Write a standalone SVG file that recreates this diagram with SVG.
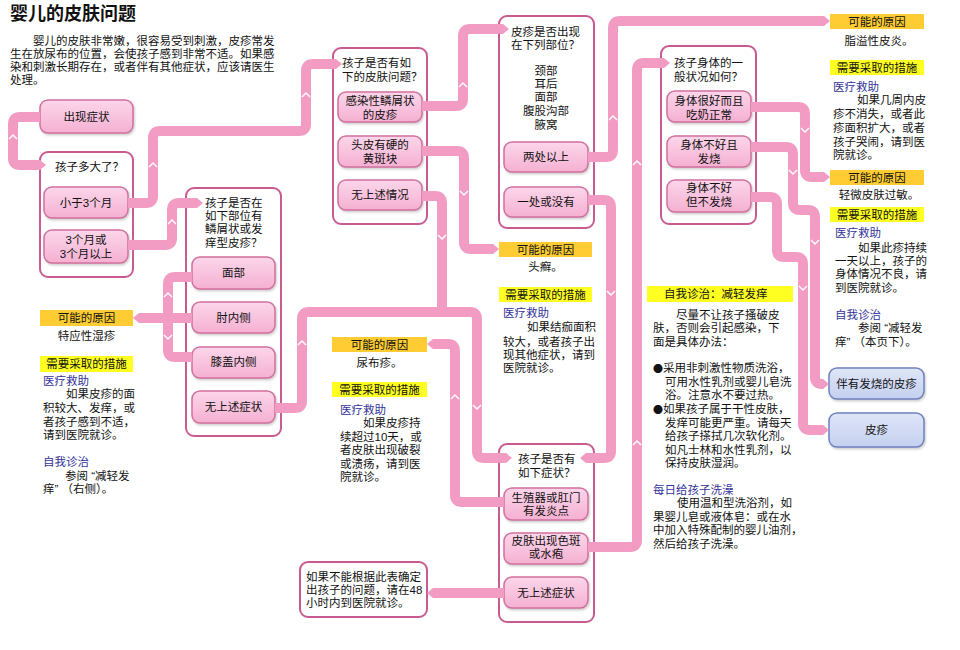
<svg xmlns="http://www.w3.org/2000/svg" width="960" height="650" viewBox="0 0 960 650">
<defs>
<linearGradient id="pk" x1="0" y1="0" x2="0" y2="1"><stop offset="0" stop-color="#fcd6ea"/><stop offset="1" stop-color="#f5b0d2"/></linearGradient>
<linearGradient id="bl" x1="0" y1="0" x2="0" y2="1"><stop offset="0" stop-color="#dfe6f8"/><stop offset="1" stop-color="#c4d0f0"/></linearGradient>
<filter id="sh" x="-10%" y="-10%" width="130%" height="150%"><feDropShadow dx="1" dy="1.5" stdDeviation="1" flood-color="#888" flood-opacity="0.45"/></filter>
<marker id="tip" markerUnits="userSpaceOnUse" viewBox="0 -6 7 12" refX="0" refY="0" markerWidth="7" markerHeight="12" orient="auto"><path d="M0,-5 L6,0 L0,5 Z" fill="#f29cc4"/></marker>
</defs>
<style>
.t{font-family:"Liberation Sans","Noto Sans CJK SC",sans-serif;font-size:11.5px;fill:#111;dominant-baseline:central}
.b{font-family:"Noto Sans CJK SC",sans-serif;font-size:10px}
.c{text-anchor:middle}
.h{fill:#333399}
.ttl{font-size:18px;font-weight:bold}
.box{fill:#fff;stroke:#c75b92;stroke-width:2}
.nd{fill:url(#pk);stroke:#d2709f;stroke-width:1.5;filter:url(#sh)}
.bn{fill:url(#bl);stroke:#7082c0;stroke-width:1.5;filter:url(#sh)}
.l1{fill:#ffcc33}
.l2{fill:#ffff22}
.cn{fill:none;stroke:#f29cc4;stroke-width:10;stroke-linejoin:round}
.cv{fill:none;stroke:#fff;stroke-width:1.4}
</style>
<rect width="960" height="650" fill="#fff"/>

<g id="intro">
<text class="t ttl" x="10" y="14">婴儿的皮肤问题</text>
<text class="t" x="33" y="41">婴儿的皮肤非常嫩，很容易受到刺激，皮疹常发</text>
<text class="t" x="10" y="54">生在放尿布的位置，会使孩子感到非常不适。如果感</text>
<text class="t" x="10" y="67">染和刺激长期存在，或者伴有其他症状，应该请医生</text>
<text class="t" x="10" y="80">处理。</text>
</g>

<g id="n-start">
<rect class="nd" x="40" y="100" width="93" height="33" rx="8"/>
<text class="t c" x="86.5" y="116.5">出现症状</text>
</g>

<g id="q-age">
<rect class="box" x="40" y="152" width="93" height="125" rx="8"/>
<text class="t" x="55" y="167">孩子多大了？</text>
<rect class="nd" x="44" y="187" width="84" height="31" rx="8"/>
<text class="t c" x="86" y="202.5">小于3个月</text>
<rect class="nd" x="44" y="230" width="84" height="33" rx="8"/>
<text class="t c" x="86" y="240">3个月或</text>
<text class="t c" x="86" y="254">3个月以上</text>
</g>

<g id="q-skin">
<rect class="box" x="333" y="48" width="94" height="176" rx="8"/>
<text class="t" x="342" y="63">孩子是否有如</text>
<text class="t" x="342" y="77">下的皮肤问题？</text>
<rect class="nd" x="338" y="92" width="84" height="30" rx="8"/>
<text class="t c" x="380" y="101">感染性鳞屑状</text>
<text class="t c" x="380" y="115">的皮疹</text>
<rect class="nd" x="338" y="136" width="84" height="31" rx="8"/>
<text class="t c" x="380" y="145">头皮有硬的</text>
<text class="t c" x="380" y="159">黄斑块</text>
<rect class="nd" x="338" y="180" width="84" height="30" rx="8"/>
<text class="t c" x="380" y="195">无上述情况</text>
</g>

<g id="q-site">
<rect class="box" x="499" y="16" width="95" height="212" rx="8"/>
<text class="t" x="511" y="32">皮疹是否出现</text>
<text class="t" x="511" y="45">在下列部位？</text>
<text class="t c" x="546" y="71">颈部</text>
<text class="t c" x="546" y="84">耳后</text>
<text class="t c" x="546" y="97">面部</text>
<text class="t c" x="546" y="111">腹股沟部</text>
<text class="t c" x="546" y="125">腋窝</text>
<rect class="nd" x="504" y="142" width="84" height="30" rx="8"/>
<text class="t c" x="546" y="157">两处以上</text>
<rect class="nd" x="504" y="187" width="84" height="30" rx="8"/>
<text class="t c" x="546" y="202">一处或没有</text>
</g>

<g id="q-itch">
<rect class="box" x="186" y="188" width="95" height="248" rx="8"/>
<text class="t" x="205" y="203">孩子是否在</text>
<text class="t" x="205" y="216">如下部位有</text>
<text class="t" x="205" y="229">鳞屑状或发</text>
<text class="t" x="205" y="243">痒型皮疹？</text>
<rect class="nd" x="192" y="257" width="83" height="32" rx="8"/>
<text class="t c" x="233.5" y="273">面部</text>
<rect class="nd" x="192" y="302" width="83" height="31" rx="8"/>
<text class="t c" x="233.5" y="318">肘内侧</text>
<rect class="nd" x="192" y="347" width="83" height="31" rx="8"/>
<text class="t c" x="233.5" y="362">膝盖内侧</text>
<rect class="nd" x="192" y="391" width="83" height="32" rx="8"/>
<text class="t c" x="233.5" y="407">无上述症状</text>
</g>

<g id="q-symptom">
<rect class="box" x="499" y="444" width="95" height="178" rx="8"/>
<text class="t" x="518" y="459">孩子是否有</text>
<text class="t" x="518" y="473">如下症状？</text>
<rect class="nd" x="504" y="488" width="84" height="32" rx="8"/>
<text class="t c" x="546" y="498">生殖器或肛门</text>
<text class="t c" x="546" y="511">有发炎点</text>
<rect class="nd" x="504" y="533" width="84" height="31" rx="8"/>
<text class="t c" x="546" y="541">皮肤出现色斑</text>
<text class="t c" x="546" y="554">或水疱</text>
<rect class="nd" x="504" y="577" width="84" height="31" rx="8"/>
<text class="t c" x="546" y="593">无上述症状</text>
</g>

<g id="q-general">
<rect class="box" x="661" y="46" width="95" height="178" rx="8"/>
<text class="t" x="674" y="63">孩子身体的一</text>
<text class="t" x="674" y="77">般状况如何？</text>
<rect class="nd" x="667" y="91" width="84" height="31" rx="8"/>
<text class="t c" x="709" y="101">身体很好而且</text>
<text class="t c" x="709" y="115">吃奶正常</text>
<rect class="nd" x="667" y="136" width="84" height="31" rx="8"/>
<text class="t c" x="709" y="145">身体不好且</text>
<text class="t c" x="709" y="159">发烧</text>
<rect class="nd" x="667" y="180" width="84" height="32" rx="8"/>
<text class="t c" x="709" y="188">身体不好</text>
<text class="t c" x="709" y="202">但不发烧</text>
</g>

<g id="end-unknown">
<rect class="box" x="300" y="562" width="127" height="55" rx="8"/>
<text class="t" x="306" y="577">如果不能根据此表确定</text>
<text class="t" x="306" y="590">出孩子的问题，请在48</text>
<text class="t" x="306" y="603">小时内到医院就诊。</text>
</g>

<g id="r-eczema">
<rect class="l1" x="40" y="310" width="93" height="16"/>
<text class="t c" x="86.5" y="318">可能的原因</text>
<text class="t c" x="86.5" y="336">特应性湿疹</text>
<rect class="l2" x="40" y="356" width="93" height="16"/>
<text class="t c" x="86.5" y="364">需要采取的措施</text>
<text class="t h" x="43" y="381">医疗救助</text>
<text class="t" x="66" y="394">如果皮疹的面</text>
<text class="t" x="43" y="408">积较大、发痒，或</text>
<text class="t" x="43" y="422">者孩子感到不适，</text>
<text class="t" x="43" y="435">请到医院就诊。</text>
<text class="t h" x="43" y="462">自我诊治</text>
<text class="t" x="65" y="476">参阅 “减轻发</text>
<text class="t" x="43" y="489">痒” （右侧）。</text>
</g>

<g id="r-diaper">
<rect class="l1" x="332" y="337" width="95" height="15"/>
<text class="t c" x="379.5" y="344.5">可能的原因</text>
<text class="t c" x="379.5" y="363">尿布疹。</text>
<rect class="l2" x="332" y="382" width="95" height="15"/>
<text class="t c" x="379.5" y="389.5">需要采取的措施</text>
<text class="t h" x="340" y="410">医疗救助</text>
<text class="t" x="363" y="423">如果皮疹持</text>
<text class="t" x="340" y="437">续超过10天，或</text>
<text class="t" x="340" y="450">者皮肤出现破裂</text>
<text class="t" x="340" y="464">或溃疡，请到医</text>
<text class="t" x="340" y="477">院就诊。</text>
</g>

<g id="r-tinea">
<rect class="l1" x="499" y="242" width="93" height="15"/>
<text class="t c" x="545.5" y="249.5">可能的原因</text>
<text class="t c" x="545.5" y="267">头癣。</text>
<rect class="l2" x="499" y="287" width="93" height="15"/>
<text class="t c" x="545.5" y="294.5">需要采取的措施</text>
<text class="t h" x="503" y="313">医疗救助</text>
<text class="t" x="527" y="327">如果结痂面积</text>
<text class="t" x="503" y="342">较大，或者孩子出</text>
<text class="t" x="503" y="355">现其他症状，请到</text>
<text class="t" x="503" y="368">医院就诊。</text>
</g>

<g id="r-seborrheic">
<rect class="l1" x="830" y="14" width="94" height="15"/>
<text class="t c" x="877" y="21.5">可能的原因</text>
<text class="t c" x="879" y="41">脂溢性皮炎。</text>
<rect class="l2" x="830" y="60" width="94" height="15"/>
<text class="t c" x="877" y="67.5">需要采取的措施</text>
<text class="t h" x="833" y="87">医疗救助</text>
<text class="t" x="857" y="100">如果几周内皮</text>
<text class="t" x="833" y="114">疹不消失，或者此</text>
<text class="t" x="833" y="128">疹面积扩大，或者</text>
<text class="t" x="833" y="142">孩子哭闹，请到医</text>
<text class="t" x="833" y="155">院就诊。</text>
</g>

<g id="r-allergy">
<rect class="l1" x="830" y="170" width="94" height="15"/>
<text class="t c" x="877" y="177.5">可能的原因</text>
<text class="t c" x="879" y="195">轻微皮肤过敏。</text>
<rect class="l2" x="830" y="207" width="94" height="15"/>
<text class="t c" x="877" y="214.5">需要采取的措施</text>
<text class="t h" x="835" y="233">医疗救助</text>
<text class="t" x="858" y="248">如果此疹持续</text>
<text class="t" x="835" y="261">一天以上，孩子的</text>
<text class="t" x="835" y="274">身体情况不良，请</text>
<text class="t" x="835" y="288">到医院就诊。</text>
<text class="t h" x="835" y="315">自我诊治</text>
<text class="t" x="858" y="328">参阅 “减轻发</text>
<text class="t" x="835" y="342">痒” （本页下）。</text>
</g>

<g id="n-fever-rash">
<rect class="bn" x="829" y="368" width="95" height="31" rx="8"/>
<text class="t c" x="876.5" y="384">伴有发烧的皮疹</text>
</g>

<g id="n-rash">
<rect class="bn" x="829" y="413" width="95" height="34" rx="8"/>
<text class="t c" x="876.5" y="430">皮疹</text>
</g>

<g id="r-itch-relief">
<rect class="l2" x="647" y="286" width="146" height="16"/>
<text class="t" x="664" y="294">自我诊治：减轻发痒</text>
<text class="t" x="676" y="315">尽量不让孩子搔破皮</text>
<text class="t" x="653" y="328">肤，否则会引起感染，下</text>
<text class="t" x="653" y="342">面是具体办法：</text>
<text class="t" x="653" y="368"><tspan class="b">●</tspan>采用非刺激性物质洗浴，</text>
<text class="t" x="665" y="382">可用水性乳剂或婴儿皂洗</text>
<text class="t" x="665" y="395">浴。注意水不要过热。</text>
<text class="t" x="653" y="409"><tspan class="b">●</tspan>如果孩子属于干性皮肤，</text>
<text class="t" x="665" y="423">发痒可能更严重。请每天</text>
<text class="t" x="665" y="436">给孩子搽拭几次软化剂。</text>
<text class="t" x="665" y="450">如凡士林和水性乳剂，以</text>
<text class="t" x="665" y="463">保持皮肤湿润。</text>
<text class="t h" x="653" y="490">每日给孩子洗澡</text>
<text class="t" x="677" y="503">使用温和型洗浴剂，如</text>
<text class="t" x="653" y="517">果婴儿皂或液体皂：或在水</text>
<text class="t" x="653" y="530">中加入特殊配制的婴儿油剂，</text>
<text class="t" x="653" y="544">然后给孩子洗澡。</text>
</g>

<g id="connectors">
<path class="cn" d="M40,117 H20 Q13,117 13,124 V158 Q13,165 20,165 H40" marker-end="url(#tip)"/>
<path class="cn" d="M128,203 H146 Q153,203 153,196 V138 Q153,131 160,131 H299 Q306,131 306,124 V71 Q306,64 313,64 H336" marker-end="url(#tip)"/>
<path class="cn" d="M128,245 H165 Q172,245 172,238 V210 Q172,203 179,203 H197" marker-end="url(#tip)"/>
<path class="cn" d="M192,277 H175 Q168,277 168,284 V318"/>
<path class="cn" d="M192,357 H175 Q168,357 168,350 V318"/>
<path class="cn" d="M192,318 H139" marker-end="url(#tip)"/>
<path class="cn" d="M422,106 H456 Q463,106 463,99 V36 Q463,29 470,29 H503" marker-end="url(#tip)"/>
<path class="cn" d="M422,151 H457 Q464,151 464,158 V242 Q464,249 471,249 H493" marker-end="url(#tip)"/>
<path class="cn" d="M422,196 H435 Q442,196 442,203 V312"/>
<path class="cn" d="M275,408 H295 Q302,408 302,401 V319 Q302,312 309,312 H470 Q477,312 477,319 V451 Q477,458 484,458 H506" marker-end="url(#tip)"/>
<path class="cn" d="M504,502 H462 Q455,502 455,495 V351 Q455,344 448,344 H433" marker-end="url(#tip)"/>
<path class="cn" d="M588,200 H604 Q611,200 611,207 V451 Q611,458 604,458 H586" marker-end="url(#tip)"/>
<path class="cn" d="M588,157 H606 Q613,157 613,150 V28 Q613,21 620,21 H824" marker-end="url(#tip)"/>
<path class="cn" d="M588,547 H630 Q637,547 637,540 V70 Q637,63 644,63 H664" marker-end="url(#tip)"/>
<path class="cn" d="M504,593 H433" marker-end="url(#tip)"/>
<path class="cn" d="M751,107 H798 Q805,107 805,114 V170 Q805,177 812,177 H824" marker-end="url(#tip)"/>
<path class="cn" d="M751,147 H786 Q793,147 793,154 V203 Q793,210 800,210 H808 Q815,210 815,217 V377 Q815,384 822,384 H823" marker-end="url(#tip)"/>
<path class="cn" d="M751,197 H770 Q777,197 777,204 V250 Q777,257 784,257 H796 Q803,257 803,264 V423 Q803,430 810,430 H823" marker-end="url(#tip)"/>
<g id="chevrons">
<path class="cv" d="M9,139 L13,135 L17,139"/>
<path class="cv" d="M149,167 L153,163 L157,167"/>
<path class="cv" d="M302,97 L306,93 L310,97"/>
<path class="cv" d="M168,224 L172,220 L176,224"/>
<path class="cv" d="M459,87 L463,83 L467,87"/>
<path class="cv" d="M609,120 L613,116 L617,120"/>
<path class="cv" d="M633,165 L637,161 L641,165"/>
<path class="cv" d="M633,445 L637,441 L641,445"/>
<path class="cv" d="M460,191 L464,195 L468,191"/>
<path class="cv" d="M438,235 L442,239 L446,235"/>
<path class="cv" d="M607,291 L611,295 L615,291"/>
<path class="cv" d="M298,345 L302,341 L306,345"/>
<path class="cv" d="M451,399 L455,395 L459,399"/>
<path class="cv" d="M473,405 L477,409 L481,405"/>
<path class="cv" d="M164,297 L168,293 L172,297"/>
<path class="cv" d="M164,335 L168,339 L172,335"/>
<path class="cv" d="M801,128 L805,132 L809,128"/>
<path class="cv" d="M789,170 L793,174 L797,170"/>
<path class="cv" d="M811,240 L815,244 L819,240"/>
<path class="cv" d="M799,286 L803,290 L807,286"/>
</g>
</g>
</svg>
